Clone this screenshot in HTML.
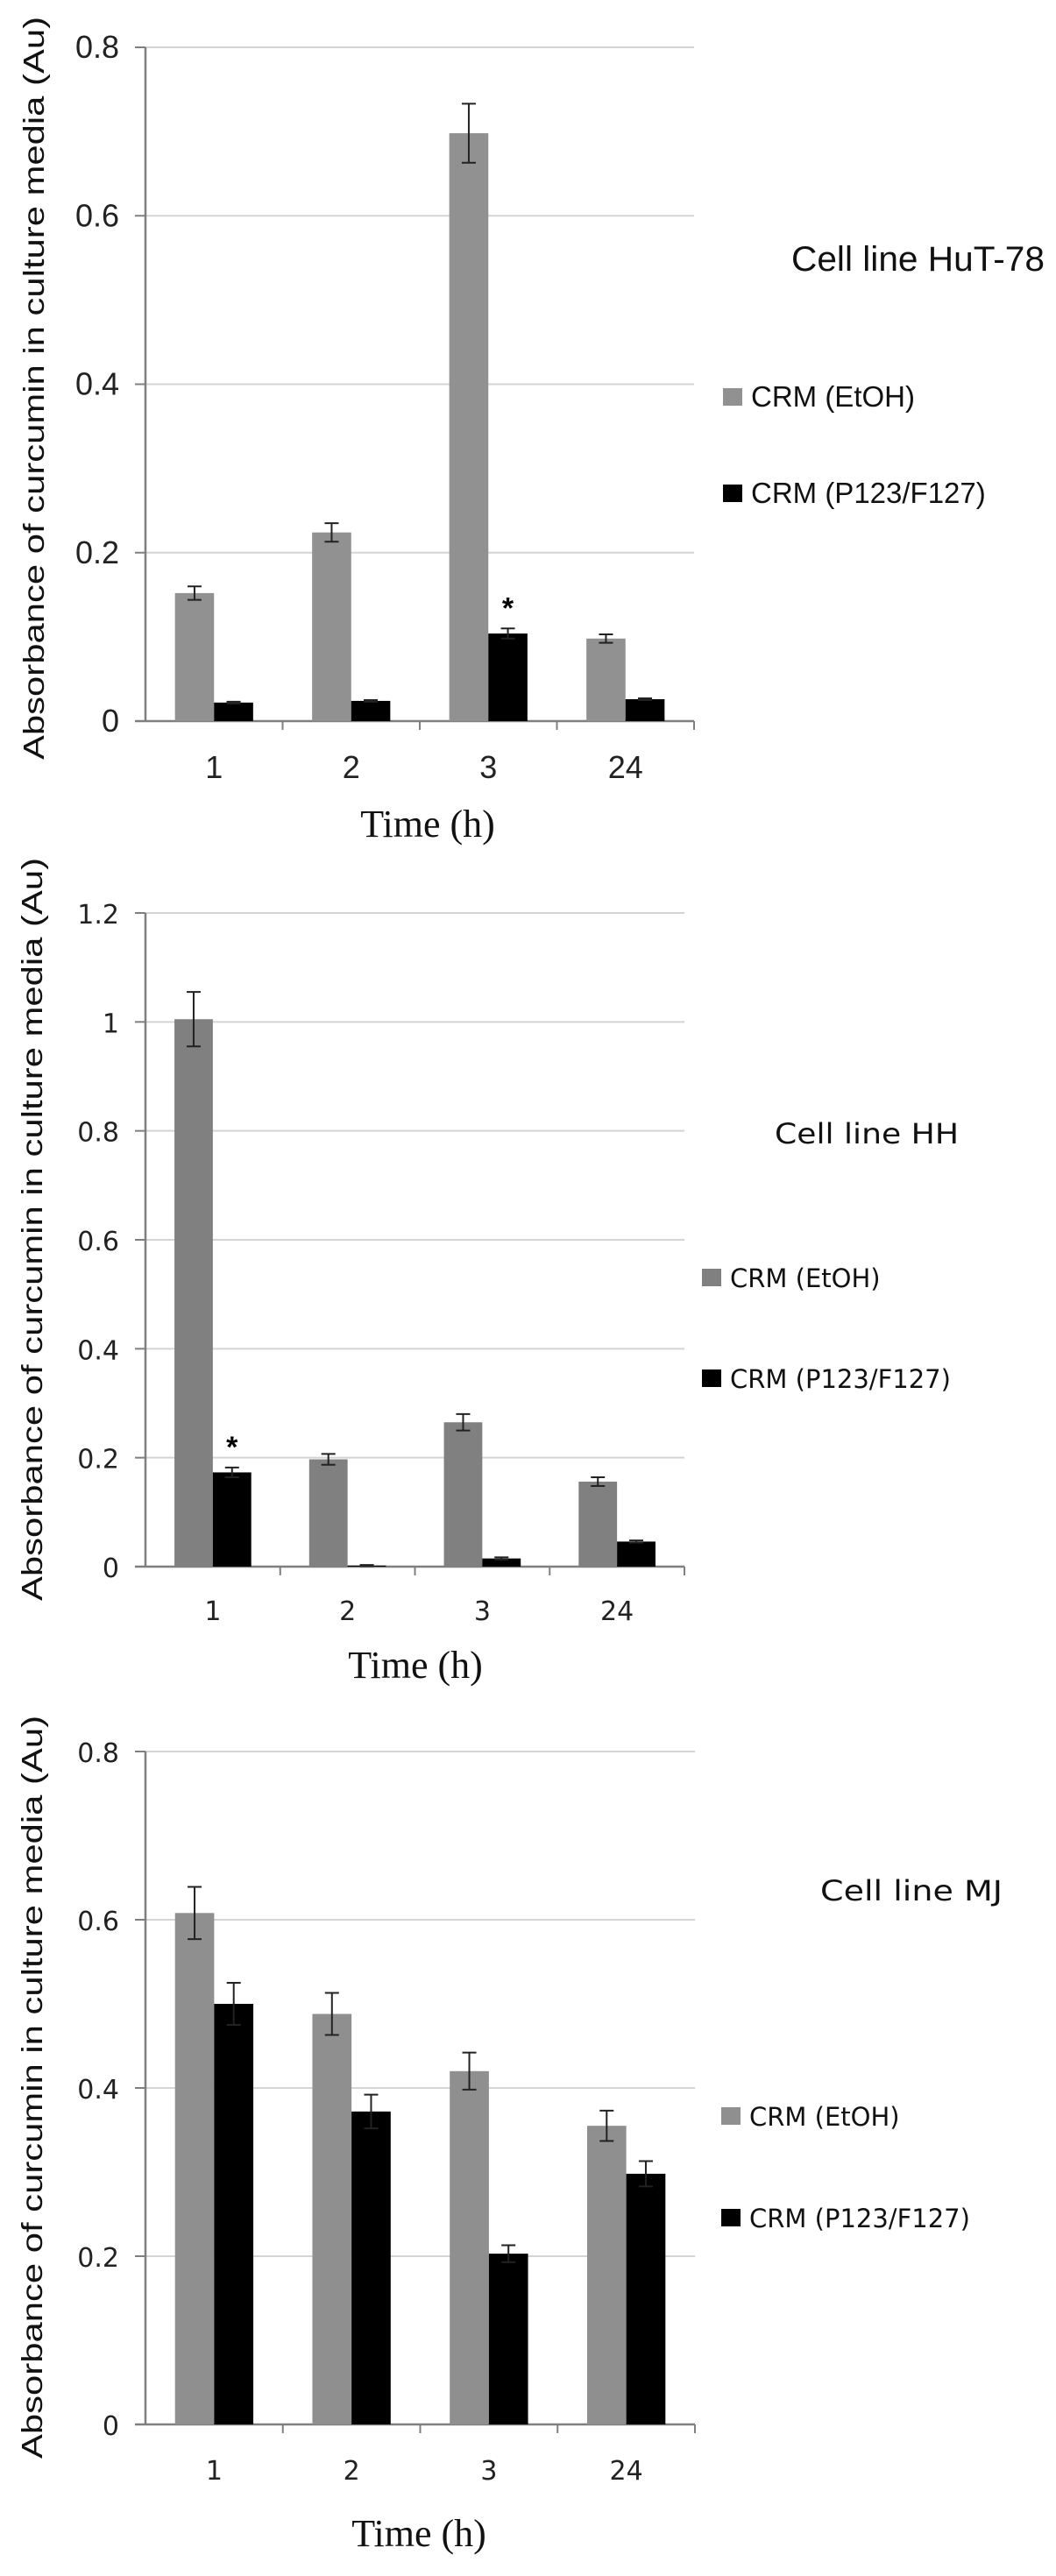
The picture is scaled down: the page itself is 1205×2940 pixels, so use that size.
<!DOCTYPE html>
<html><head><meta charset="utf-8"><style>
html,body{margin:0;padding:0;background:#fff;}
svg{display:block;}
</style></head><body>
<svg id="fig" width="1205" height="2940" viewBox="0 0 1205 2940" xmlns="http://www.w3.org/2000/svg"></svg>
<script>
const categories = ["1","2","3","24"];
// Panel A: HuT-78
const hutEtoh = [0.152, 0.224, 0.698, 0.098];
const hutEtohErr = [0.008, 0.011, 0.035, 0.005];
const hutPlur = [0.022, 0.024, 0.104, 0.026];
const hutPlurErr = [0.001, 0.001, 0.006, 0.001];
const hutTicks = ["0","0.2","0.4","0.6","0.8"];
// Panel B: HH
const hhEtoh = [1.005, 0.197, 0.265, 0.156];
const hhEtohErr = [0.05, 0.01, 0.015, 0.008];
const hhPlur = [0.173, 0.002, 0.015, 0.046];
const hhPlurErr = [0.009, 0.001, 0.002, 0.002];
const hhTicks = ["0","0.2","0.4","0.6","0.8","1","1.2"];
// Panel C: MJ
const mjEtoh = [0.608, 0.488, 0.42, 0.355];
const mjEtohErr = [0.031, 0.025, 0.022, 0.018];
const mjPlur = [0.5, 0.372, 0.203, 0.298];
const mjPlurErr = [0.025, 0.02, 0.01, 0.015];
const mjTicks = ["0","0.2","0.4","0.6","0.8"];

const NS = "http://www.w3.org/2000/svg";
const svg = document.getElementById("fig");
function mk(tag, attrs, parent){const e=document.createElementNS(NS,tag);for(const k in attrs)e.setAttribute(k,attrs[k]);(parent||svg).appendChild(e);return e;}

function panel(o){
  const g = mk("g",{});
  
  
  const ymax = parseFloat(o.ticks[o.ticks.length-1]);
  const y = v => o.y0 - (v/ymax)*(o.y0-o.yTop);
  const cw = (o.x1-o.x0)/categories.length;
  const font = o.font;
  o.ticks.forEach(t=>{
    const v=parseFloat(t), yy=y(v);
    if(v>0){const gl=mk("line",{x1:o.x0,x2:o.x1,y1:yy,y2:yy,stroke:"#d4d4d4","stroke-width":2},g);
      
      }
    mk("line",{x1:o.x0-12,x2:o.x0,y1:yy,y2:yy,stroke:"#7f7f7f","stroke-width":2},g);
    const tl=mk("text",{x:o.x0-30,y:yy+12,"text-anchor":"end","font-size":o.tfs,"font-family":font,fill:"#222"},g);
    tl.textContent=t;
    
    
  });
  const ax=mk("line",{x1:o.x0,x2:o.x0,y1:o.yTop,y2:o.y0,stroke:"#7f7f7f","stroke-width":2.5},g);
  
  
  const xa=mk("line",{x1:o.x0-12,x2:o.x1,y1:o.y0,y2:o.y0,stroke:"#7f7f7f","stroke-width":2.5},g);
  
  
  categories.forEach((c,i)=>{
    const cx=o.x0+cw*i;
    mk("line",{x1:cx+cw,x2:cx+cw,y1:o.y0,y2:o.y0+10,stroke:"#7f7f7f","stroke-width":2},g);
    const bw=cw*0.285, off=(cw-2*bw)/2;
    [[o.a,o.ae,o.grey,"bar-etoh-"+c],[o.b,o.be,"#000","bar-p123-"+c]].forEach((s,k)=>{
      const v=s[0][i], e=s[1][i], bx=cx+off+k*bw;
      const r=mk("rect",{x:bx,y:y(v),width:bw,height:o.y0-y(v),fill:s[2]},g);
      
      
      const mx=bx+bw/2, cap=8;
      const eb=mk("path",{d:`M${mx},${y(v+e)}V${y(v-e)}M${mx-cap},${y(v+e)}H${mx+cap}M${mx-cap},${y(v-e)}H${mx+cap}`,stroke:"#222","stroke-width":2,fill:"none"},g);
      
      
    });
    const xl=mk("text",{x:cx+cw/2,y:o.xly,"text-anchor":"middle","font-size":o.tfs,"font-family":font,fill:"#222"},g);
    xl.textContent=c;
    
    
  });
  if(o.star!=null){
    const i=o.star, cx=o.x0+cw*i, bw=cw*0.285, off=(cw-2*bw)/2;
    const st=mk("text",{x:cx+off+bw*1.5,y:y(o.b[i]+o.be[i])-12,"text-anchor":"middle","font-size":34,"font-weight":"bold","font-family":"Liberation Sans, sans-serif"},g);
    st.textContent="*";
    
    
  }
  const xt=mk("text",{x:o.tx,y:o.ty,"text-anchor":"middle","font-size":44,"font-family":"Liberation Serif, serif",fill:"#111"},g);
  xt.textContent="Time (h)";
  
  
  const yt=mk("text",{x:0,y:0,"text-anchor":"middle","font-size":33,"font-family":"Liberation Sans Narrow, Liberation Sans, sans-serif",fill:"#111",textLength:848,lengthAdjust:"spacingAndGlyphs",transform:`translate(${o.ytx},${o.yty}) rotate(-90)`},g);
  yt.textContent="Absorbance of curcumin in culture media (Au)";
  
  
  const ti=mk("text",{x:o.titleX,y:o.titleY,"font-size":o.titleFs,"font-family":font,fill:"#111",textLength:o.titleW,lengthAdjust:"spacingAndGlyphs"},g);
  ti.textContent=o.title;
  
  
  [["CRM (EtOH)",o.grey,o.l1y,"legend-entry-etoh"],["CRM (P123/F127)","#000",o.l2y,"legend-entry-p123"]].forEach(L=>{
    const lg=mk("g",{},g);
    
    
    mk("rect",{x:o.lx,y:L[2]-10,width:22,height:20,fill:L[1]},lg);
    const lt=mk("text",{x:o.lx+32,y:L[2]+11,"font-size":o.lfs,"font-family":font,fill:"#111"},lg);
    lt.textContent=L[0];
  });
}

panel({name:"chart-hut78",a:hutEtoh,ae:hutEtohErr,b:hutPlur,be:hutPlurErr,ticks:hutTicks,
  x0:166,x1:792,y0:823,yTop:54,grey:"#919191",font:"Liberation Sans Narrow, Liberation Sans, sans-serif",tfs:36,xly:888,
  star:2,tx:488,ty:955,ytx:50,yty:443,title:"Cell line HuT-78",titleX:903,titleY:309,titleFs:40,titleW:289,
  lx:825,l1y:453,l2y:563,lfs:33});
panel({name:"chart-hh",a:hhEtoh,ae:hhEtohErr,b:hhPlur,be:hhPlurErr,ticks:hhTicks,
  x0:166,x1:781,y0:1788,yTop:1042,grey:"#808080",font:"DejaVu Sans, sans-serif",tfs:30,xly:1849,
  star:0,tx:474,ty:1915,ytx:48,yty:1403,title:"Cell line HH",titleX:884,titleY:1305,titleFs:32,titleW:210,
  lx:801,l1y:1458,l2y:1573,lfs:29});
panel({name:"chart-mj",a:mjEtoh,ae:mjEtohErr,b:mjPlur,be:mjPlurErr,ticks:mjTicks,
  x0:166,x1:793,y0:2767,yTop:1999,grey:"#8f8f8f",font:"DejaVu Sans, sans-serif",tfs:30,xly:2830,
  star:null,tx:478,ty:2906,ytx:48,yty:2382,title:"Cell line MJ",titleX:936,titleY:2169,titleFs:32,titleW:208,
  lx:823,l1y:2415,l2y:2531,lfs:29});
</script>
</body></html>
